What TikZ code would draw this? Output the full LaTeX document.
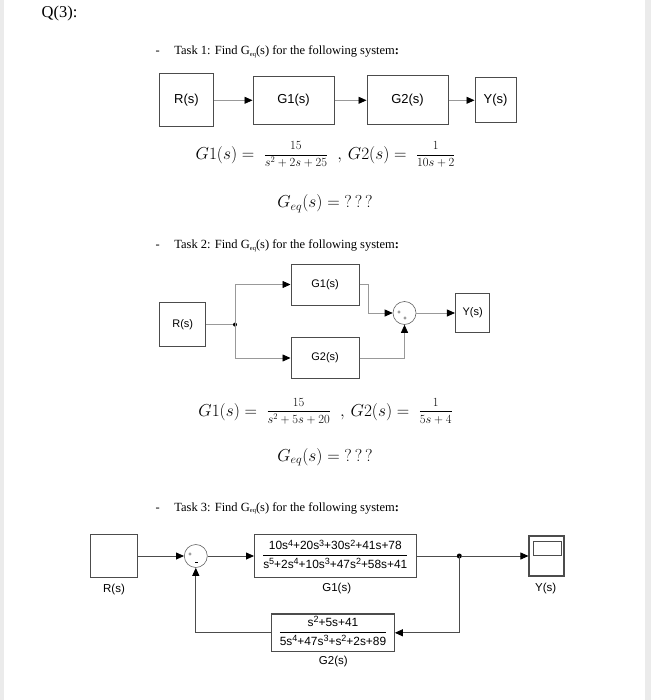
\documentclass[tikz,border=0pt]{standalone}
\usepackage{amsmath}
\usepackage{fontspec}
\setmainfont{Liberation Serif}
\setsansfont{Liberation Sans}
\usetikzlibrary{arrows.meta, positioning}

\newcommand{\Gsub}{G\raisebox{-1.3pt}{\fontsize{6.5}{6.5}\selectfont eq}}
\newcommand{\sfr}[2]{\raisebox{1.5pt}{\scalebox{0.72}{$\displaystyle\frac{#1}{#2}$}}}
\newcommand{\qqq}{\mathord{?}\,\mathord{?}\,\mathord{?}}
\newcommand{\sq}[1]{\raisebox{3.5pt}{\fontsize{9}{9}\selectfont #1}}
\newcommand{\blkfrac}[2]{\begin{tabular}{@{}c@{}}#1\\[2pt]\hline\rule{0pt}{12.5pt}#2\end{tabular}}

\begin{document}
\begin{tikzpicture}[x=1pt, y=-1pt,
	blk/.style={draw=black!70, line width=1pt, fill=white, inner sep=0pt, font=\sffamily\fontsize{13}{13}\selectfont},
	blksm/.style={blk, font=\sffamily\fontsize{11}{11}\selectfont},
	tfblk/.style={blk, line width=1.1pt, font=\sffamily\fontsize{11.9}{13}\selectfont},
	sumnode/.style={circle, draw=black!60, line width=0.6pt, fill=white, minimum size=23pt, inner sep=0pt},
	sgn/.style={inner sep=0pt, font=\sffamily\fontsize{6}{6}\selectfont},
	lbl/.style={inner sep=0pt, font=\sffamily\fontsize{11.5}{11.5}\selectfont},
	junc/.style={circle, fill=black, minimum size=4pt, inner sep=0pt},
	wire/.style={draw=black!40, line width=0.8pt, -{Triangle[length=8pt, width=7pt, color=black]}},
	plainwire/.style={draw=black!40, line width=0.8pt},
	wirethree/.style={wire, draw=black!70},
	plainwirethree/.style={plainwire, draw=black!70},
	tasktext/.style={anchor=base west, inner sep=0pt, font=\fontsize{12.5}{12.5}\selectfont},
	mth/.style={anchor=base, inner sep=0pt, font=\fontsize{17.5}{17.5}\selectfont}]
	% page
	\useasboundingbox (0,0) rectangle (651,700);
	\fill[white] (0,0) rectangle (651,700);
	\fill[black!8] (0,0) rectangle (4,700);
	\fill[black!8] (645,0) rectangle (651,700);
	\node[anchor=base west, inner sep=0pt, font=\fontsize{16.5}{16.5}\selectfont] (Q) at (41.5,18) {Q(3):};

	% Task 1:
	\node[tasktext] (T1) at (155.5,55) {-\hspace{14.5pt}Task 1: Find \Gsub(s) for the following system\textbf{:}};
	\node[blk, minimum width=54.7pt, minimum height=52.7pt] (R1) at (186.4,100.3) {R(s)};
	\node[blk, minimum width=81pt, minimum height=48.3pt] (GA1) at (293.5,100.3) {G1(s)};
	\node[blk, minimum width=81pt, minimum height=49pt] (GA2) at (407.5,100.3) {G2(s)};
	\node[blk, minimum width=41pt, minimum height=45pt] (Y1) at (495.5,100.3) {Y(s)};
	\draw[wire] (R1) -- (GA1);
	\draw[wire] (GA1) -- (GA2);
	\draw[wire] (GA2) -- (Y1);
	\node[mth] (F1) at (325.5,159.5) {$G1(s) =\; \sfr{15}{s^{2}+2s+25}\;\;,\, G2(s) =\; \sfr{1}{10s+2}$};
	\node[mth] (E1) at (325,208) {$G_{eq}(s) = \qqq$};

	% Task 2:
	\node[tasktext] (T2) at (155.5,249) {-\hspace{14.5pt}Task 2: Find \Gsub(s) for the following system\textbf{:}};
	\node[blksm, minimum width=45.5pt, minimum height=43.8pt] (R2) at (182.7,324.6) {R(s)};
	\node[blksm, minimum width=68.2pt, minimum height=41pt] (GB1) at (325.1,284.5) {G1(s)};
	\node[blksm, minimum width=68.2pt, minimum height=41pt] (GB2) at (325.1,358) {G2(s)};
	\node[sumnode] (S2) at (404.5,313) {};
	\node[sgn] (S2a) at ([shift={(-5.5,0)}]S2.center) {+};
	\node[sgn] (S2b) at ([shift={(0.5,6)}]S2.center) {+};
	\node[blksm, minimum width=34.3pt, minimum height=39pt] (Y2) at (472.6,313) {Y(s)};
	\node[junc] (J2) at (235,324.6) {};
	\draw[plainwire] (R2) -- (J2);
	\draw[wire] (J2.center) |- (GB1);
	\draw[wire] (J2.center) |- (GB2);
	\coordinate (K2) at ([xshift=9pt]GB1.east);
	\draw[wire] (GB1.east) -- (K2) |- (S2);
	\draw[wire] (GB2) -| (S2);
	\draw[wire] (S2) -- (Y2);
	\node[mth] (F2) at (325.4,416) {$G1(s) =\; \sfr{15}{s^{2}+5s+20}\;\;,\, G2(s) =\; \sfr{1}{5s+4}$};
	\node[mth] (E2) at (325,461) {$G_{eq}(s) = \qqq$};

	% Task 3:
	\node[tasktext] (T3) at (155.5,511.5) {-\hspace{14.5pt}Task 3: Find \Gsub(s) for the following system\textbf{:}};
	\node[blk, line width=1.1pt, minimum width=47pt, minimum height=43pt] (R3) at (114,556) {};
	\node[lbl] (LR3) at (114,589.5) {R(s)};
	\node[sumnode] (S3) at (195.8,556) {};
	\node[sgn] (S3a) at ([shift={(-5.8,-1)}]S3.center) {+};
	\node[sgn] (S3b) at ([shift={(0.9,6)}]S3.center) {\rule{3pt}{0.5pt}};
	\node[tfblk, minimum width=161.5pt, minimum height=43pt] (GC1) at (335.3,556) {\blkfrac{10s\sq{4}+20s\sq{3}+30s\sq{2}+41s+78}{s\sq{5}+2s\sq{4}+10s\sq{3}+47s\sq{2}+58s+41}};
	\node[lbl] (LG1) at (336.7,588.3) {G1(s)};
	\node[junc, minimum size=5pt] (J3) at (459.3,556) {};
	\node[blk, line width=1.1pt, minimum width=35pt, minimum height=40pt] (Y3) at (546.5,556) {};
	\draw[black!70, line width=0.7pt] ([shift={(5.3,5.7)}]Y3.north west) rectangle ([shift={(-3.3,20)}]Y3.north east);
	\node[lbl] (LY3) at (545.7,588.3) {Y(s)};
	\node[tfblk, minimum width=122.6pt, minimum height=37.7pt] (GC2) at (333,632.8) {\blkfrac{s\sq{2}+5s+41}{5s\sq{4}+47s\sq{3}+s\sq{2}+2s+89}};
	\node[lbl] (LG2) at (333.3,661.7) {G2(s)};
	\draw[wirethree] (R3) -- (S3);
	\draw[wirethree] (S3) -- (GC1);
	\draw[plainwirethree] (GC1) -- (J3);
	\draw[wirethree] (J3) -- (Y3);
	\draw[wirethree] (J3.center) |- (GC2);
	\draw[wirethree] (GC2) -| (S3);
\end{tikzpicture}
\end{document}
